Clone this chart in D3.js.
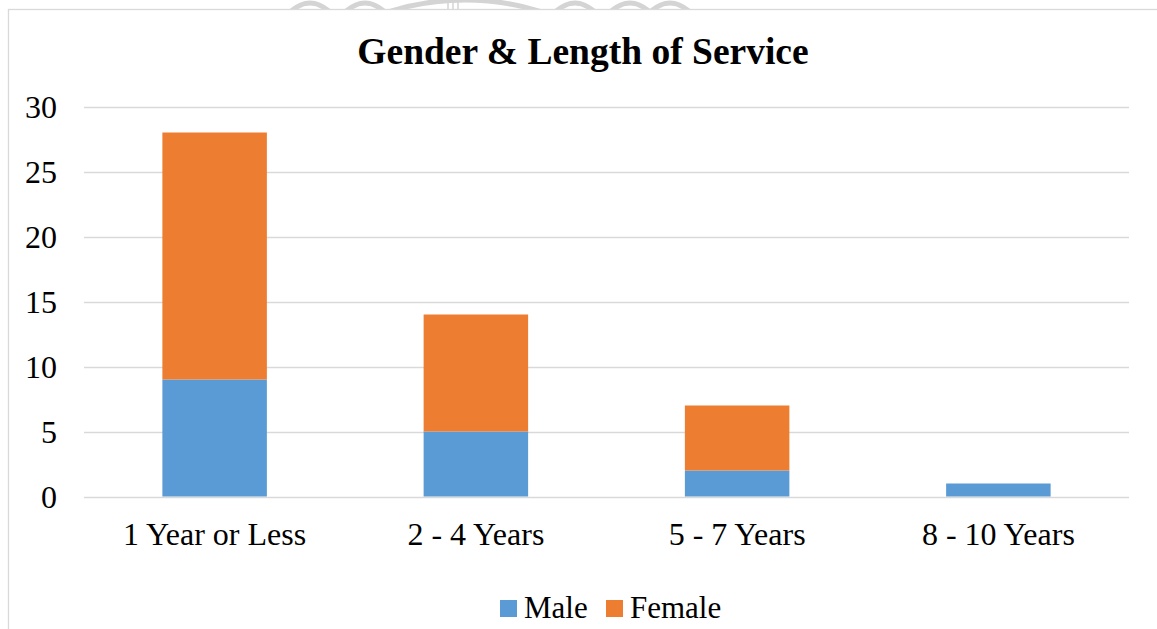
<!DOCTYPE html>
<html>
<head>
<meta charset="utf-8">
<script src="https://cdn.jsdelivr.net/npm/d3@7"></script>
<style>
  html, body { margin: 0; padding: 0; background: #fff; }
  svg { display: block; font-family: "Liberation Serif", "Times New Roman", serif; }
</style>
</head>
<body>
<svg id="chart" width="1157" height="629"></svg>
<script>
const categories = ["1 Year or Less", "2 - 4 Years", "5 - 7 Years", "8 - 10 Years"];
const maleValues = [9, 5, 2, 1];
const femaleValues = [19, 9, 5, 0];
const seriesNames = ["Male", "Female"];
const seriesColors = ["#5B9BD5", "#ED7D31"];
const yTicks = [0, 5, 10, 15, 20, 25, 30];
const titleText = "Gender & Length of Service";

const svg = d3.select("#chart");
const W = 1157, H = 629;
const FONT = "Liberation Serif, Times New Roman, serif";

// faint emblem strip above the frame
svg.append("clipPath").attr("id", "topStrip")
  .append("rect").attr("x", 0).attr("y", 0).attr("width", W).attr("height", 9);
const emblem = svg.append("g").attr("clip-path", "url(#topStrip)")
  .attr("fill", "none").attr("stroke", "#d4d4d4").attr("stroke-width", 5);
const arc = d3.arc();
[[0, 250, -1.05, 1.05], [0, 215, -0.95, -0.3], [0, 215, 0.3, 0.95]].forEach(([i, r, a0, a1]) => {
  emblem.append("path")
    .attr("transform", "translate(465,250)")
    .attr("d", arc({ innerRadius: r, outerRadius: r, startAngle: a0, endAngle: a1 }));
});
[[290, 330], [345, 385], [555, 595], [610, 650], [650, 690]].forEach(([a, b]) => {
  emblem.append("path").attr("d", `M${a},12 Q${(a + b) / 2},-6 ${b},12`);
});
[448, 453, 458].forEach(px => {
  emblem.append("line").attr("x1", px).attr("x2", px).attr("y1", 0).attr("y2", 9).attr("stroke-width", 1.5);
});

// chart frame
svg.append("rect")
  .attr("x", 8.5).attr("y", 9.5)
  .attr("width", W + 10).attr("height", H + 10)
  .attr("fill", "#fff").attr("stroke", "#d9d9d9").attr("stroke-width", 1.3);

const plot = { left: 84, right: 1129, top: 106.5, bottom: 496.5 };

const x = d3.scaleBand().domain(categories)
  .range([plot.left, plot.right]).paddingInner(0.6).paddingOuter(0.3);
const y = d3.scaleLinear().domain([0, 30]).range([plot.bottom, plot.top]);

// gridlines
svg.append("g").selectAll("line").data(yTicks).join("line")
  .attr("x1", plot.left).attr("x2", plot.right)
  .attr("y1", d => Math.round(y(d)) + 0.5).attr("y2", d => Math.round(y(d)) + 0.5)
  .attr("stroke", "#d9d9d9").attr("stroke-width", 1.3);

// stacked data
const rows = categories.map((c, i) => ({ cat: c, Male: maleValues[i], Female: femaleValues[i] }));
const stacked = d3.stack().keys(seriesNames)(rows);

svg.append("g").selectAll("g").data(stacked).join("g")
  .attr("fill", (d, i) => seriesColors[i])
  .selectAll("rect").data(d => d).join("rect")
  .attr("x", d => x(d.data.cat))
  .attr("width", x.bandwidth())
  .attr("y", d => y(d[1]))
  .attr("height", d => y(d[0]) - y(d[1]));

// y axis labels
const yAxis = d3.axisLeft(y).tickValues(yTicks).tickSize(0).tickPadding(0);
const yg = svg.append("g").attr("transform", `translate(57,0)`).call(yAxis)
  .attr("font-family", FONT).attr("font-size", 32);
yg.select(".domain").remove();
yg.selectAll("text").attr("fill", "#000").attr("dy", "0.33em");

// x axis labels
const xAxis = d3.axisBottom(x).tickSize(0).tickPadding(0);
const xg = svg.append("g").attr("transform", `translate(0,545)`).call(xAxis)
  .attr("font-family", FONT).attr("font-size", 32);
xg.select(".domain").remove();
xg.selectAll("text").attr("fill", "#000").attr("y", 0).attr("dy", 0);

// title
svg.append("text")
  .attr("x", 583).attr("y", 64)
  .attr("text-anchor", "middle")
  .attr("font-size", 37.5).attr("font-weight", "bold").attr("fill", "#000")
  .text(titleText);

// legend
const legend = svg.append("g").attr("transform", "translate(500,600)");
const legendX = [0, 106];
seriesNames.forEach((name, i) => {
  const g = legend.append("g").attr("transform", `translate(${legendX[i]},0)`);
  g.append("rect").attr("width", 17).attr("height", 17).attr("fill", seriesColors[i]);
  g.append("text").attr("x", 24).attr("y", 18).attr("font-size", 31).attr("fill", "#000").text(name);
});
</script>
</body>
</html>
